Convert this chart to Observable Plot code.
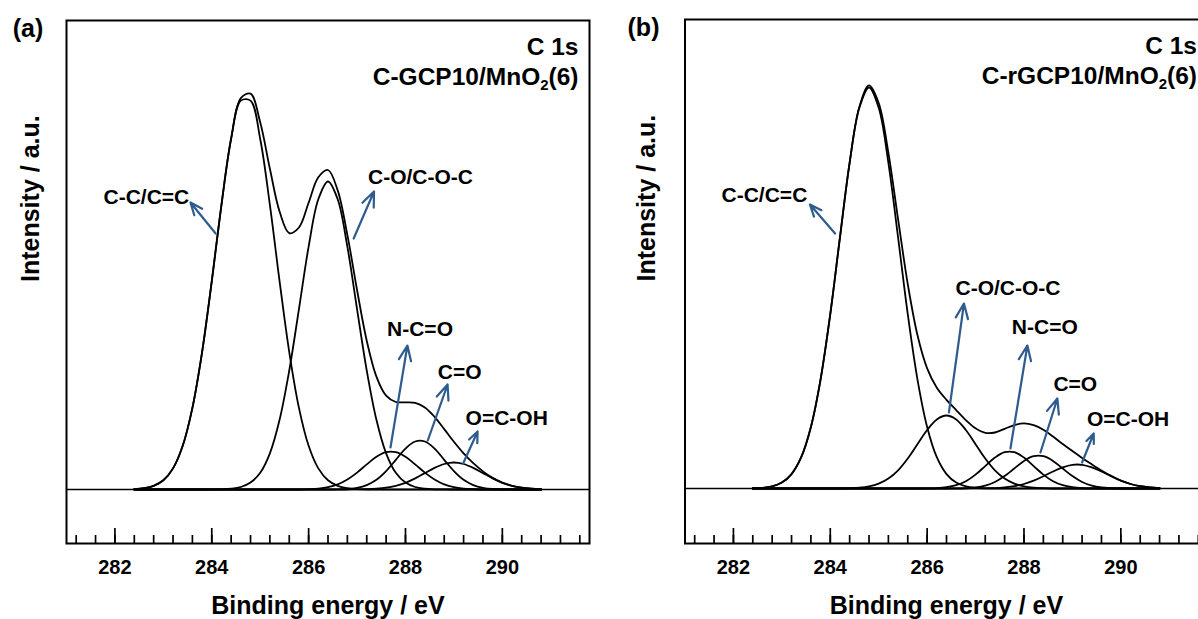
<!DOCTYPE html>
<html><head><meta charset="utf-8">
<script src="https://cdn.jsdelivr.net/npm/d3@7"></script>
<script src="https://cdn.jsdelivr.net/npm/@observablehq/plot@0.6"></script>
<style>
html,body{margin:0;padding:0;background:#fff;}
#wrap{position:relative;width:1198px;height:619px;overflow:hidden;background:#fff;}
#wrap svg{position:absolute;top:0;max-width:none;}
#wrap svg [aria-label="x-axis tick label"] text{font-weight:bold;}
</style></head><body><div id="wrap"></div>
<script>
const FONT = '"Liberation Sans", Arial, Helvetica, sans-serif';
const BLUE = "#2e5c8e";

// binding energy sample points (eV)
const energy = [282.4,282.6,282.8,283.0,283.2,283.4,283.6,283.8,284.0,284.2,284.4,284.6,284.8,285.0,285.2,285.4,285.6,285.8,286.0,286.2,286.4,286.6,286.8,287.0,287.2,287.4,287.6,287.8,288.0,288.2,288.4,288.6,288.8,289.0,289.2,289.4,289.6,289.8,290.0,290.2,290.4,290.6,290.8];
const peakNames = ["C-C/C=C","C-O/C-O-C","N-C=O","C=O","O=C-OH"];

// panel (a) C-GCP10/MnO2(6): fitted components and envelope (a.u.)
const ccA =  [0.4,1.3,3.6,9.2,21.1,43.7,81.6,137.4,208.3,284.6,350.5,388.9,388.9,350.5,284.6,208.3,137.4,81.6,43.7,21.1,9.2,3.6,1.3,0.4,0,0,0,0,0,0,0,0,0,0,0,0,0,0,0,0,0,0,0];
const coA =  [0,0,0,0,0,0,0,0,0.1,0.2,0.8,2.5,6.9,16.7,36.2,69.7,119.0,180.4,242.8,290.2,308,290.2,242.8,180.4,119.0,69.7,36.2,16.7,6.9,2.5,0.8,0.2,0.1,0,0,0,0,0,0,0,0,0,0];
const ncoA = [0,0,0,0,0,0,0,0,0,0,0,0,0,0,0,0,0,0,0.3,0.9,2.3,5.1,10.0,16.9,25.1,32.7,37.4,37.4,32.7,25.1,16.9,10.0,5.1,2.3,0.9,0.3,0,0,0,0,0,0,0];
const coxA = [0,0,0,0,0,0,0,0,0,0,0,0,0,0,0,0,0,0,0,0,0,0.2,0.5,1.7,4.4,9.7,18.4,29.7,40.9,48.0,48.0,40.9,29.7,18.4,9.7,4.4,1.7,0.5,0.2,0,0,0,0];
const oocA = [0,0,0,0,0,0,0,0,0,0,0,0,0,0,0,0,0,0,0,0,0,0,0,0.1,0.3,0.8,1.8,3.7,6.7,11.1,16.4,21.6,25.5,27,25.5,21.6,16.4,11.1,6.7,3.7,1.8,0.8,0.3];
const envA = [0.4,1.3,3.6,9.2,21.1,43.7,81.6,137.4,208.4,284.8,351.3,391.4,395.8,367.2,320.8,278.0,256.4,262.0,286.8,312.2,319.5,299.1,254.6,199.5,148.8,112.9,93.8,87.5,87.2,86.7,82.1,72.7,60.4,47.7,36.1,26.3,18.1,11.6,6.9,3.7,1.8,0.8,0.3];

// panel (b) C-rGCP10/MnO2(6)
const ccB =  [0.2,0.7,2.2,5.9,14.4,31.3,61.6,109.2,174.4,251.1,325.7,380.7,401,380.7,325.7,251.1,174.4,109.2,61.6,31.3,14.4,5.9,2.2,0.7,0.2,0,0,0,0,0,0,0,0,0,0,0,0,0,0,0,0,0,0];
const coB =  [0,0,0,0,0,0,0,0,0,0,0.3,0.8,2.1,4.8,9.9,18.2,30.0,44.3,58.5,69.1,73,69.1,58.5,44.3,30.0,18.2,9.9,4.8,2.1,0.8,0.3,0,0,0,0,0,0,0,0,0,0,0,0];
const ncoB = [0,0,0,0,0,0,0,0,0,0,0,0,0,0,0,0,0,0,0.1,0.4,1.3,3.3,7.3,13.9,22.4,30.9,36.3,36.3,30.9,22.4,13.9,7.3,3.3,1.3,0.4,0.1,0,0,0,0,0,0,0];
const coxB = [0,0,0,0,0,0,0,0,0,0,0,0,0,0,0,0,0,0,0,0,0,0.1,0.4,1.1,2.9,6.5,12.4,20.0,27.6,32.3,32.3,27.6,20.0,12.4,6.5,2.9,1.1,0.4,0.1,0,0,0,0];
const oocB = [0,0,0,0,0,0,0,0,0,0,0,0,0,0,0,0,0,0,0,0,0,0,0,0.1,0.2,0.4,1.1,2.3,4.5,7.8,12.2,17.0,21.2,23.7,23.7,21.2,17.0,12.2,7.8,4.5,2.3,1.1,0.4];
const envB = [0.2,0.7,2.2,5.9,14.4,31.3,61.6,109.2,174.4,251.1,326.0,381.5,403.1,385.5,335.6,269.3,204.4,153.5,120.2,100.8,88.7,78.4,68.4,60.2,55.7,56.0,59.7,63.4,65.1,63.3,58.7,51.9,44.5,37.4,30.6,24.2,18.1,12.6,7.9,4.5,2.3,1.1,0.4];

// annotation anchors (eV, a.u.)
const labelXA = [282.65, 288.31, 288.30, 289.12, 290.09];
const labelYA = [292, 312, 160, 117, 71];
const tailXA = [284.08, 286.93, 287.69, 288.46, 289.19];
const tailYA = [256, 251, 42, 49, 26];
const headXA = [283.56, 287.35, 288.04, 288.87, 289.49];
const headYA = [287, 298, 144, 105, 58];

const labelXB = [282.64, 287.67, 288.43, 289.06, 290.15];
const labelYB = [293, 200, 161, 104, 69];
const tailXB = [284.10, 286.45, 287.72, 288.34, 289.20];
const tailYB = [255, 76, 40, 36, 26];
const headXB = [283.58, 286.76, 288.07, 288.69, 289.44];
const headYB = [284, 185, 143, 90, 55];

const majorTicks = [282, 284, 286, 288, 290];
const minorTicks = [281.2,281.6,282.0,282.4,282.8,283.2,283.6,284.0,284.4,284.8,285.2,285.6,286.0,286.4,286.8,287.2,287.6,288.0,288.4,288.8,289.2,289.6,290.0,290.4,290.8,291.2,291.6];
const xDomain = [281, 291.8];

function makePanel(cfg) {
  const rows = [];
  cfg.series.forEach((vals, k) => vals.forEach((v, i) => rows.push({energy: energy[i], intensity: v, name: k})));
  const labels = peakNames.map((t, i) => ({text: t, x: cfg.lx[i], y: cfg.ly[i]}));
  const arrows = peakNames.map((t, i) => ({x1: cfg.tx[i], y1: cfg.ty[i], x2: cfg.hx[i], y2: cfg.hy[i]}));
  const svg = Plot.plot({
    width: cfg.width, height: 619,
    marginLeft: cfg.marginLeft, marginRight: cfg.marginRight, marginTop: cfg.marginTop, marginBottom: 76,
    style: {fontFamily: FONT, background: "transparent", overflow: "visible", color: "#000"},
    x: {domain: xDomain, label: null},
    y: {domain: cfg.yDomain, axis: null, label: null},
    marks: [
      Plot.ruleY([0], {stroke: "#000", strokeWidth: 1.7}),
      Plot.line(rows, {x: "energy", y: "intensity", z: "name", curve: "catmull-rom", stroke: "#000", strokeWidth: 1.8}),
      Plot.arrow(arrows, {x1: "x1", y1: "y1", x2: "x2", y2: "y2", stroke: BLUE, strokeWidth: 2.2, headLength: 11, headAngle: 45}),
      Plot.text(labels, {x: "x", y: "y", text: "text", fontSize: 21, fontWeight: "bold", fill: "#000"}),
      Plot.text(["C 1s"], {frameAnchor: "top-right", textAnchor: "end", lineAnchor: "middle", dx: -11, dy: 27, fontSize: 24.5, fontWeight: "bold", fill: "#000"}),
      Plot.text([cfg.sample], {frameAnchor: "top-right", textAnchor: "end", lineAnchor: "middle", dx: -11, dy: 57, fontSize: 24.5, fontWeight: "bold", fill: "#000"}),
      Plot.text([cfg.tag], {frameAnchor: "top-left", textAnchor: "middle", lineAnchor: "middle", dx: cfg.tagDx, dy: 8, fontSize: 25, fontWeight: "bold", fill: "#000"}),
      Plot.axisX({ticks: minorTicks, tickSize: 8, dy: -8, fill: "none", stroke: "#000", strokeWidth: 1.7, label: null}),
      Plot.axisX({ticks: majorTicks, tickSize: 15, dy: -15, fill: "none", stroke: "#000", strokeWidth: 1.7, label: null}),
      Plot.axisX({ticks: majorTicks, tickSize: 0, tickPadding: 16, tickFormat: d => String(d), fontSize: 20, fontWeight: "bold", fill: "#000", label: null}),
      Plot.text(["Binding energy / eV"], {frameAnchor: "bottom", lineAnchor: "middle", dy: 62, fontSize: 25, fontWeight: "bold", fill: "#000"}),
      Plot.text(["Intensity / a.u."], {frameAnchor: "left", rotate: -90, lineAnchor: "middle", dx: cfg.ylabDx, fontSize: 25, fontWeight: "bold", fill: "#000"}),
      Plot.frame({stroke: "#000", strokeWidth: 2})
    ]
  });
  // subscript in the sample name
  const ns = "http://www.w3.org/2000/svg";
  svg.querySelectorAll("text").forEach(t => {
    if (t.textContent === cfg.sample) {
      const i = cfg.sample.indexOf("MnO2") + 3;
      t.textContent = "";
      const a = document.createElementNS(ns, "tspan"); a.textContent = cfg.sample.slice(0, i); t.appendChild(a);
      const b = document.createElementNS(ns, "tspan"); b.textContent = "2"; b.setAttribute("dy", "5"); b.setAttribute("font-size", "15"); t.appendChild(b);
      const c = document.createElementNS(ns, "tspan"); c.textContent = cfg.sample.slice(i + 1); c.setAttribute("dy", "-5"); t.appendChild(c);
    }
  });
  svg.style.left = cfg.left + "px";
  return svg;
}

const wrap = document.getElementById("wrap");
wrap.appendChild(makePanel({
  series: [ccA, coA, ncoA, coxA, oocA, envA],
  lx: labelXA, ly: labelYA, tx: tailXA, ty: tailYA, hx: headXA, hy: headYA,
  sample: "C-GCP10/MnO2(6)", tag: "(a)", tagDx: -38.5, ylabDx: -36,
  width: 600, left: 0, marginLeft: 66, marginRight: 11, marginTop: 20, yDomain: [-54, 469]
}));
wrap.appendChild(makePanel({
  series: [ccB, coB, ncoB, coxB, oocB, envB],
  lx: labelXB, ly: labelYB, tx: tailXB, ty: tailYB, hx: headXB, hy: headYB,
  sample: "C-rGCP10/MnO2(6)", tag: "(b)", tagDx: -41.5, ylabDx: -38.5,
  width: 620, left: 600, marginLeft: 84.5, marginRight: 12.5, marginTop: 19, yDomain: [-55, 469]
}));
</script></body></html>
